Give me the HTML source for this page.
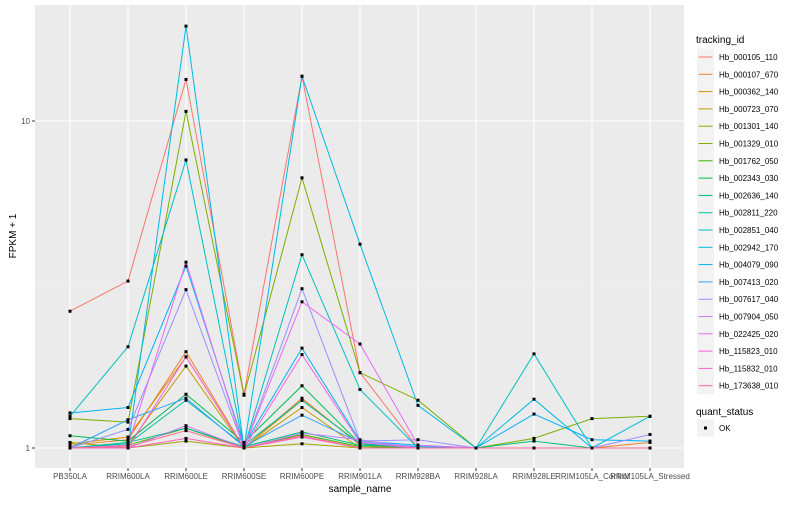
<!DOCTYPE html>
<html><head><meta charset="utf-8"><style>
body{margin:0;background:#fff;font-family:"Liberation Sans",sans-serif}
svg text{font-family:"Liberation Sans",sans-serif}
</style></head><body>
<svg id="chart" width="800" height="500" viewBox="0 0 800 500">
<rect x="35" y="5" width="649" height="463" fill="#EBEBEB"/>
<g id="grid"></g><g id="series"></g><g id="axes"></g><g id="legend"></g>
</svg>
<script>
const categories=["PB350LA","RRIM600LA","RRIM600LE","RRIM600SE","RRIM600PE","RRIM901LA","RRIM928BA","RRIM928LA","RRIM928LE","RRIM105LA_Control","RRIM105LA_Stressed"];
const seriesNames=["Hb_000105_110","Hb_000107_670","Hb_000362_140","Hb_000723_070","Hb_001301_140","Hb_001329_010","Hb_001762_050","Hb_002343_030","Hb_002636_140","Hb_002811_220","Hb_002851_040","Hb_002942_170","Hb_004079_090","Hb_007413_020","Hb_007617_040","Hb_007904_050","Hb_022425_020","Hb_115823_010","Hb_115832_010","Hb_173638_010"];
const seriesColors=["#F8766D","#EA8331","#D89000","#C09B00","#A3A500","#7CAE00","#39B600","#00BB4E","#00BF7D","#00C1A3","#00BFC4","#00BAE0","#00B0F6","#35A2FF","#9590FF","#C77CFF","#E76BF3","#FA62DB","#FF62BC","#FF6C91"];
const s0=[2.62,3.24,13.4,1.46,13.7,1.70,1.0,1,1,1,1];
const s1=[1.02,1.06,1.97,1.0,1.42,1.02,1,1,1,1,1.04];
const s2=[1.03,1.08,1.9,1.0,1.40,1.03,1,1,1,1,1];
const s3=[1.0,1.02,1.78,1.0,1.33,1.0,1,1,1,1,1];
const s4=[1.04,1.0,1.05,1.0,1.03,1.0,1,1,1,1,1];
const s5=[1.23,1.2,10.7,1.45,6.7,1.70,1.40,1,1.07,1.23,1.25];
const s6=[1.0,1.02,1.15,1.0,1.10,1.01,1,1,1,1,1];
const s7=[1.09,1.05,1.46,1.04,1.55,1.03,1,1,1,1,1];
const s8=[1.0,1.04,1.15,1.01,1.12,1.02,1.01,1,1.05,1,1];
const s9=[1.0,1.03,1.4,1.02,1.4,1.03,1,1,1,1,1];
const s10=[1.25,2.04,7.6,1.0,3.9,1.51,1.0,1,1.94,1,1];
const s11=[1.0,1.0,19.5,1.0,13.7,4.2,1.35,1,1.41,1.0,1.25];
const s12=[1.28,1.33,3.6,1.02,2.02,1.05,1.02,1,1.27,1.06,1.05];
const s13=[1.0,1.22,1.42,1.01,1.26,1.04,1.01,1,1,1,1];
const s14=[1.0,1.14,3.05,1.0,3.07,1.05,1.06,1,1,1,1.1];
const s15=[1.0,1.0,1.17,1.0,1.11,1.06,1,1,1,1,1];
const s16=[1.0,1.02,3.7,1.0,2.8,2.08,1.02,1,1,1,1];
const s17=[1.0,1.0,1.9,1.0,1.93,1.04,1,1,1,1,1];
const s18=[1,1,1.07,1,1.08,1,1,1,1,1,1];
const s19=[1,1.01,1.13,1,1.09,1,1,1,1,1,1];
const seriesValues=[s0,s1,s2,s3,s4,s5,s6,s7,s8,s9,s10,s11,s12,s13,s14,s15,s16,s17,s18,s19];
const yTicks=[1,10];
const yTickLabels=["1","10"];
const yMinor=[3.1623];

const NS="http://www.w3.org/2000/svg";
function xPos(i){return 70+i*58;}
function yPos(v){return 448-327*Math.log10(v);}
function mk(tag,attrs,parent){const e=document.createElementNS(NS,tag);for(const k in attrs)e.setAttribute(k,attrs[k]);parent.appendChild(e);return e;}
const grid=document.getElementById('grid'),ser=document.getElementById('series'),ax=document.getElementById('axes'),lg=document.getElementById('legend');
yMinor.forEach(v=>{const l=mk('line',{x1:35,x2:684,y1:yPos(v),y2:yPos(v),stroke:'#F5F5F5','stroke-width':0.6},grid);

});
yTicks.forEach((v,i)=>{const l=mk('line',{x1:35,x2:684,y1:yPos(v),y2:yPos(v),stroke:'#fff','stroke-width':1.1},grid);


const t=mk('line',{x1:32,x2:35,y1:yPos(v),y2:yPos(v),stroke:'#333','stroke-width':1},ax);


const tx=mk('text',{x:30,y:yPos(v)+3,'font-size':8,'text-anchor':'end',fill:'#4D4D4D'},ax);tx.textContent=yTickLabels[i];

});
categories.forEach((c,i)=>{const x=xPos(i);
const l=mk('line',{x1:x,x2:x,y1:5,y2:468,stroke:'#fff','stroke-width':1.1},grid);


const t=mk('line',{x1:x,x2:x,y1:468,y2:471,stroke:'#333','stroke-width':1},ax);


const tx=mk('text',{x:x,y:479,'font-size':8,'text-anchor':'middle',fill:'#4D4D4D'},ax);tx.textContent=c;

});
const xt=mk('text',{x:360,y:492,'font-size':10,'text-anchor':'middle',fill:'#000'},ax);xt.textContent='sample_name';


const yt=mk('text',{x:0,y:0,'font-size':10,'text-anchor':'middle',fill:'#000',transform:'translate(16,236) rotate(-90)'},ax);yt.textContent='FPKM + 1';


seriesValues.forEach((vals,si)=>{
const pts=vals.map((v,i)=>xPos(i)+','+yPos(v)).join(' ');
const pl=mk('polyline',{points:pts,fill:'none',stroke:seriesColors[si],'stroke-width':1},ser);

});
seriesValues.forEach((vals,si)=>{vals.forEach((v,i)=>{
const p=mk('rect',{x:xPos(i)-1.5,y:yPos(v)-1.5,width:3,height:3,fill:'#000'},ser);

});});
const lt=mk('text',{x:696,y:43,'font-size':10,fill:'#000'},lg);lt.textContent='tracking_id';


seriesNames.forEach((n,i)=>{const y=57+i*17.3;
const g=mk('g',{},lg);


mk('rect',{x:697,y:y-8.5,width:17,height:17,fill:'#F2F2F2'},g);
mk('line',{x1:698.5,x2:712.5,y1:y,y2:y,stroke:seriesColors[i],'stroke-width':1},g);
const t=mk('text',{x:719,y:y+3,'font-size':8,fill:'#000'},g);t.textContent=n;});
const qt=mk('text',{x:696,y:415,'font-size':10,fill:'#000'},lg);qt.textContent='quant_status';


const qg=mk('g',{},lg);


mk('rect',{x:697,y:419.5,width:17,height:17,fill:'#F2F2F2'},qg);
mk('rect',{x:704,y:426.5,width:3,height:3,fill:'#000'},qg);
const ok=mk('text',{x:719,y:431,'font-size':8,fill:'#000'},qg);ok.textContent='OK';
</script>
</body></html>
